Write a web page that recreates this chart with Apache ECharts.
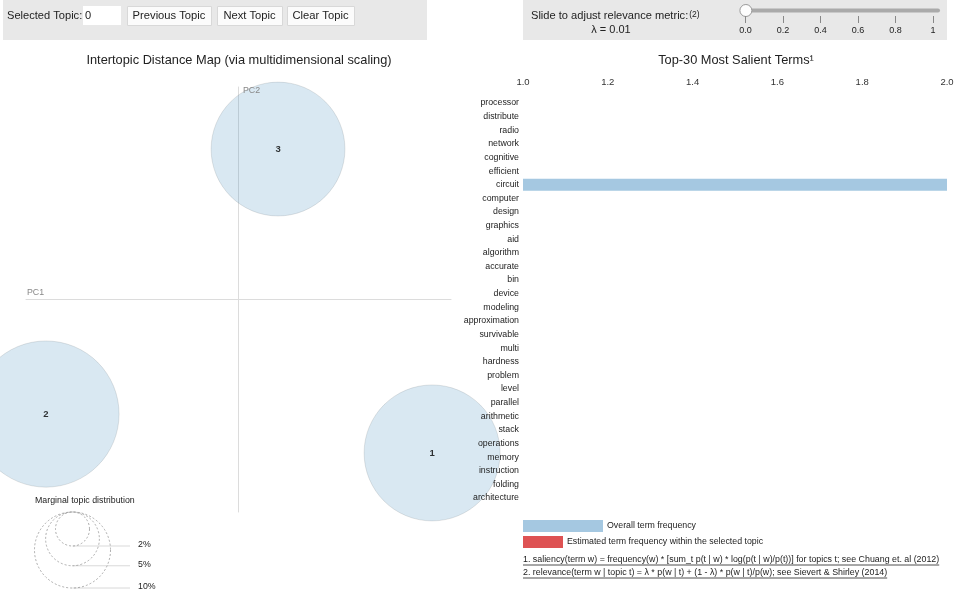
<!DOCTYPE html>
<html>
<head>
<meta charset="utf-8">
<script src="https://cdn.jsdelivr.net/npm/echarts@6/dist/echarts.min.js"></script>
<style>
html, body { margin: 0; padding: 0; background: #fff; }
#main { width: 973px; height: 593px; }
</style>
</head>
<body>
<div id="main"></div>
<script>
// 主题数据 (MDS 坐标, 边际分布 %)
var topicIds = [1, 2, 3];
var topicX = [0.911, -0.906, 0.186];
var topicY = [-0.722, -0.539, 0.708];
var topicFreq = [32, 37, 31];
var guideFreq = [2, 5, 10];

// 词项
var terms = ['processor', 'distribute', 'radio', 'network', 'cognitive', 'efficient', 'circuit',
	'computer', 'design', 'graphics', 'aid', 'algorithm', 'accurate', 'bin', 'device', 'modeling',
	'approximation', 'survivable', 'multi', 'hardness', 'problem', 'level', 'parallel', 'arithmetic',
	'stack', 'operations', 'memory', 'instruction', 'folding', 'architecture'];
var termFreq = [1, 1, 1, 1, 1, 1, 2, 1, 1, 1, 1, 1, 1, 1, 1, 1, 1, 1, 1, 1, 1, 1, 1, 1, 1, 1, 1, 1, 1, 1];
var freqMin = 1, freqMax = 2, freqStep = 0.2;
var lambdaMin = 0, lambdaMax = 1, lambdaStep = 0.2;
var lambdaValue = 0.01;

var FONT = '"Liberation Sans", Arial, Helvetica, sans-serif';

function rScale(f) {
	return 17 * Math.sqrt(f / 2);
}

var ctx = document.createElement('canvas').getContext('2d');
function textWidth(t, font) {
	ctx.font = font;
	return ctx.measureText(t).width;
}

function txt(t, x, y, size, opt) {
	opt = opt || {};
	var font = (opt.weight ? opt.weight + ' ' : '') + size + 'px ' + FONT;
	return {
		type: 'text',
		silent: true,
		z: 10,
		style: {
			text: t, x: x, y: y, font: font,
			fill: opt.color || '#222',
			align: opt.align || 'left', textAlign: opt.align || 'left',
			verticalAlign: 'middle', textVerticalAlign: 'middle',
			rich: opt.rich
		}
	};
}

function rect(x, y, w, h, fill, stroke) {
	return {
		type: 'rect', silent: true, z: 1,
		shape: { x: x, y: y, width: w, height: h },
		style: { fill: fill, stroke: stroke || null, lineWidth: stroke ? 1 : 0 }
	};
}

var graphics = [];
// 左侧控制栏
graphics.push(rect(3, 0, 424, 40, '#e8e8e8'));
graphics.push(txt('Selected Topic:', 7, 16, 11.1));
var inputBox = rect(83, 6, 38, 19, '#fff');
inputBox.z = 2;
graphics.push(inputBox);
graphics.push(txt('0', 85, 16, 11.1));
var buttons = [['Previous Topic', 127, 84], ['Next Topic', 217, 65], ['Clear Topic', 287, 67]];
buttons.forEach(function(b) {
	var br = rect(b[1] + 0.5, 6.5, b[2], 19, '#fbfbfb', '#d8d8d8');
	br.z = 2;
	graphics.push(br);
	graphics.push(txt(b[0], b[1] + b[2] / 2, 16, 11.2, { align: 'center' }));
});

// 右侧滑块栏
graphics.push(rect(523, 0, 424, 40, '#e8e8e8'));
graphics.push(txt('Slide to adjust relevance metric:{s|(2)}', 531, 16, 11.1,
	{ rich: { s: { fontSize: 8.5, fontFamily: FONT, fill: '#222', padding: [0, 0, 2, 1] } } }));
graphics.push(txt('\u03bb = ' + lambdaValue.toFixed(2), 611, 30, 11, { align: 'center' }));
graphics.push({
	type: 'line', silent: true, z: 6,
	shape: { x1: 745, y1: 10.5, x2: 938, y2: 10.5 },
	style: { stroke: '#aaa', lineWidth: 4, lineCap: 'round' }
});
graphics.push({
	type: 'circle', silent: true, z: 7,
	shape: { cx: 745.5 + (lambdaValue - lambdaMin) / (lambdaMax - lambdaMin) * 187.5 - 1.5, cy: 10.5, r: 6 },
	style: { fill: '#fdfdfd', stroke: '#9a9a9a', lineWidth: 1 }
});

// 标题
graphics.push(txt('Intertopic Distance Map (via multidimensional scaling)', 239, 60, 12.8, { align: 'center' }));
graphics.push(txt('Top-30 Most Salient Terms\u00b9', 736, 60, 12.8, { align: 'center' }));

// PC 轴标注
graphics.push(txt('PC1', 27, 293, 8.8, { color: '#888' }));
graphics.push(txt('PC2', 243, 91, 8.8, { color: '#888' }));

// 边际分布图例
graphics.push(txt('Marginal topic distribution', 35, 501, 8.8));
var guideCx = 72.5, guideTop = 512, guideX2 = 130;
guideFreq.forEach(function(f) {
	var r = rScale(f);
	graphics.push({
		type: 'circle', silent: true, z: 6,
		shape: { cx: guideCx, cy: guideTop + r, r: r },
		style: { fill: null, stroke: '#999', lineWidth: 0.8, lineDash: [2, 2] }
	});
	graphics.push({
		type: 'line', silent: true, z: 6,
		shape: { x1: guideCx, y1: guideTop + 2 * r, x2: guideX2, y2: guideTop + 2 * r },
		style: { stroke: 'rgba(128,128,128,0.3)', lineWidth: 1 }
	});
	graphics.push(txt(f + '%', guideX2 + 8, guideTop + 2 * r - 1, 8.8));
});

// 柱状图图例
graphics.push(rect(523, 520, 80, 12, '#a5c8e1'));
graphics.push(txt('Overall term frequency', 607, 526, 8.8));
graphics.push(rect(523, 536, 40, 12, '#de5253'));
graphics.push(txt('Estimated term frequency within the selected topic', 567, 542, 8.8));

// 脚注 (带下划线)
var notes = [
	'1. saliency(term w) = frequency(w) * [sum_t p(t | w) * log(p(t | w)/p(t))] for topics t; see Chuang et. al (2012)',
	'2. relevance(term w | topic t) = \u03bb * p(w | t) + (1 - \u03bb) * p(w | t)/p(w); see Sievert & Shirley (2014)'
];
notes.forEach(function(n, i) {
	var y = 560 + i * 13;
	var size = 8.85;
	graphics.push(txt(n, 523, y, size));
	var w = textWidth(n, size + 'px ' + FONT);
	graphics.push({
		type: 'line', silent: true, z: 10,
		shape: { x1: 523, y1: y + 5, x2: 523 + w, y2: y + 5 },
		style: { stroke: '#222', lineWidth: 0.8 }
	});
});

var scatterData = [];
for (var i = 0; i < topicIds.length; i++) {
	scatterData.push([topicX[i], topicY[i], topicFreq[i], topicIds[i]]);
}

var myChart = echarts.init(document.getElementById('main'));
var option = {
	animation: false,
	textStyle: { fontFamily: FONT },
	grid: [
		{ left: 26, top: 87, width: 425, height: 425 },
		{ left: 523, top: 96.2, width: 424, height: 408.6 },
		{ left: 745.5, top: 6, width: 187.5, height: 10 }
	],
	xAxis: [
		{
			gridIndex: 0, type: 'value', min: -1, max: 1,
			axisLine: { onZero: true, lineStyle: { color: '#dcdcdc', width: 1 } },
			axisTick: { show: false }, axisLabel: { show: false }, splitLine: { show: false }
		},
		{
			gridIndex: 1, type: 'value', position: 'top',
			min: freqMin, max: freqMax, interval: freqStep,
			axisLine: { show: false }, axisTick: { show: false }, splitLine: { show: false },
			axisLabel: {
				fontSize: 9.5, color: '#333', margin: 9,
				formatter: function(v) { return v.toFixed(1); }
			}
		},
		{
			gridIndex: 2, type: 'value', position: 'bottom', z: 20,
			min: lambdaMin, max: lambdaMax, interval: lambdaStep,
			axisLine: { show: false, onZero: false },
			axisTick: { show: true, length: 7, lineStyle: { color: '#888' } },
			splitLine: { show: false },
			axisLabel: {
				fontSize: 9, color: '#222', margin: 10,
				formatter: function(v) { return v === 1 ? '1' : v.toFixed(1); }
			}
		}
	],
	yAxis: [
		{
			gridIndex: 0, type: 'value', min: -1, max: 1,
			axisLine: { onZero: true, lineStyle: { color: '#dcdcdc', width: 1 } },
			axisTick: { show: false }, axisLabel: { show: false }, splitLine: { show: false }
		},
		{
			gridIndex: 1, type: 'category', inverse: true, data: terms, z: 5,
			axisLine: { show: false }, axisTick: { show: false },
			axisLabel: { fontSize: 8.8, color: '#222', margin: 4 }
		},
		{
			gridIndex: 2, type: 'value', show: false
		}
	],
	series: [
		{
			name: 'topics', type: 'scatter', xAxisIndex: 0, yAxisIndex: 0, clip: false,
			data: scatterData,
			symbolSize: function(v) { return 2 * rScale(v[2]); },
			itemStyle: { color: 'rgba(31,119,180,0.21)', borderColor: 'rgba(0,0,0,0.12)', borderWidth: 1 },
			label: {
				show: true, position: 'inside', color: '#000', fontWeight: 'bold', fontSize: 9.5,
				formatter: function(p) { return p.value[3]; }
			},
			z: 2
		},
		{
			name: 'Overall term frequency', type: 'bar', xAxisIndex: 1, yAxisIndex: 1,
			data: termFreq, barWidth: 12, clip: true,
			itemStyle: { color: '#a5c8e1' }
		}
	],
	graphic: graphics
};
myChart.setOption(option);
</script>
</body>
</html>
